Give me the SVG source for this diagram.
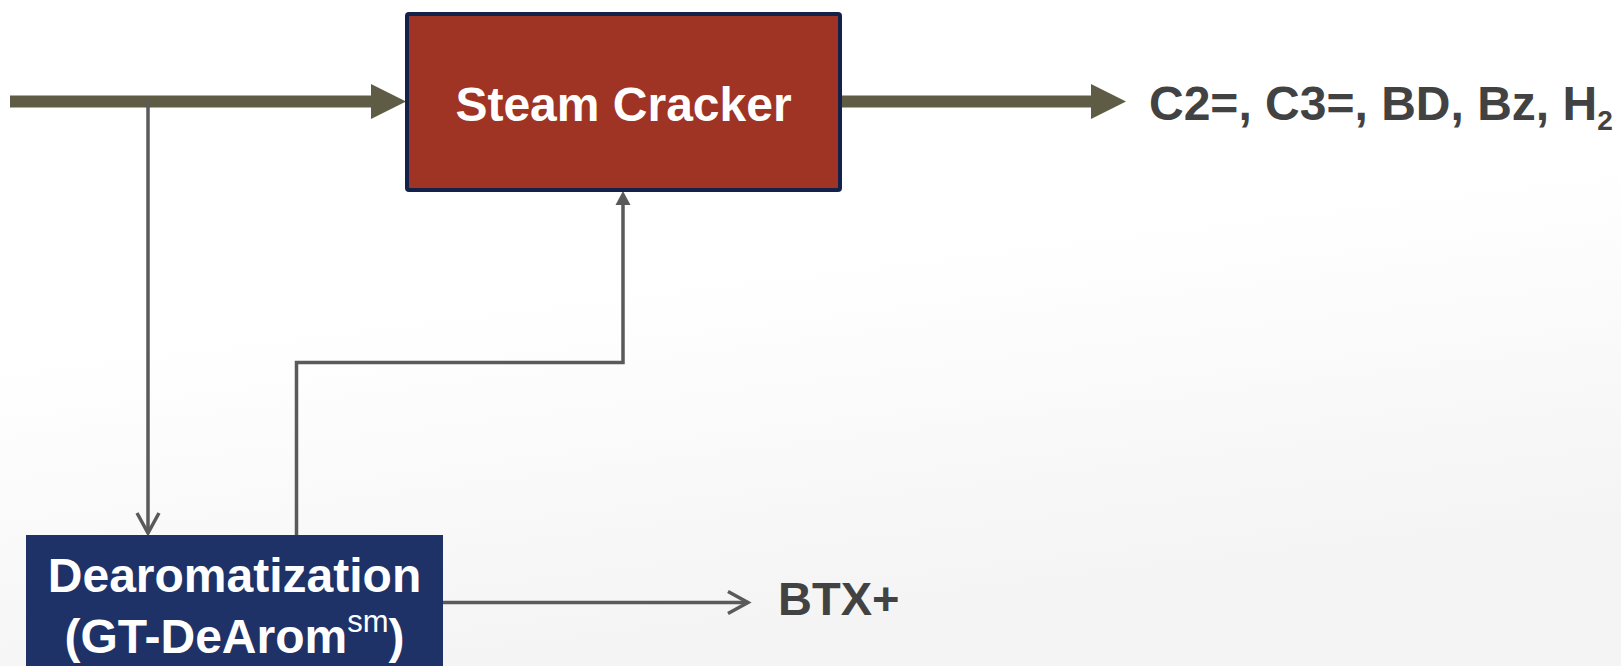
<svg xmlns="http://www.w3.org/2000/svg" width="1621" height="666" viewBox="0 0 1621 666">
  <style>
    .lbl { font-family: "Liberation Sans", Arial, sans-serif; font-weight: bold; }
    .white { fill: #ffffff; }
    .dark { fill: #424242; }
    .thick { stroke: #5e5c45; stroke-width: 12; fill: none; }
    .thin { stroke: #5a5a5a; stroke-width: 3.5; fill: none; }
  </style>
  <defs>
    <linearGradient id="bg" x1="0" y1="0" x2="0.3" y2="1">
      <stop offset="0" stop-color="#ffffff"/>
      <stop offset="0.5" stop-color="#ffffff"/>
      <stop offset="1" stop-color="#f4f4f4"/>
    </linearGradient>
    <marker id="bigHead" markerUnits="userSpaceOnUse" markerWidth="36" markerHeight="36" refX="0" refY="17.5" orient="auto" overflow="visible">
      <path d="M0,0 L35,17.5 L0,35 Z" fill="#5e5c45"/>
    </marker>
    <marker id="smallHead" markerUnits="userSpaceOnUse" markerWidth="15" markerHeight="16" refX="0" refY="7.5" orient="auto" overflow="visible">
      <path d="M0,0 L14,7.5 L0,15 Z" fill="#5a5a5a"/>
    </marker>
    <marker id="openHead" markerUnits="userSpaceOnUse" markerWidth="22" markerHeight="24" refX="20" refY="11" orient="auto" overflow="visible">
      <path d="M0,0 L20,11 L0,22" fill="none" stroke="#5a5a5a" stroke-width="3.5" stroke-linejoin="miter"/>
    </marker>
  </defs>

  <rect x="0" y="0" width="1621" height="666" fill="url(#bg)"/>

  <g id="connectors">
    <line class="thick" x1="10" y1="101.5" x2="371" y2="101.5" marker-end="url(#bigHead)"/>
    <line class="thick" x1="842" y1="101.5" x2="1091" y2="101.5" marker-end="url(#bigHead)"/>
    <line class="thin" x1="148" y1="101.5" x2="148" y2="533" marker-end="url(#openHead)"/>
    <polyline class="thin" points="296.5,535 296.5,362.5 623,362.5 623,205" marker-end="url(#smallHead)"/>
    <line class="thin" x1="443" y1="602.5" x2="748" y2="602.5" marker-end="url(#openHead)"/>
  </g>

  <g id="steam-cracker">
    <rect x="407" y="14" width="433" height="176" rx="2" fill="#9f3324" stroke="#13214b" stroke-width="4"/>
    <text class="lbl white" x="623.5" y="120.5" font-size="48" text-anchor="middle">Steam Cracker</text>
  </g>

  <g id="dearomatization">
    <rect x="26" y="535" width="417" height="131" fill="#1e3268"/>
    <text class="lbl white" x="234.5" y="591.5" font-size="48" text-anchor="middle">Dearomatization</text>
    <text class="lbl white" x="234.5" y="652.5" font-size="48" text-anchor="middle">(GT-DeArom<tspan font-size="31" font-weight="normal" dy="-21">sm</tspan><tspan dy="21">)</tspan></text>
  </g>

  <g id="products">
    <text class="lbl dark" x="1149" y="120" font-size="48">C2=, C3=, BD, Bz, H<tspan font-size="28" dy="10">2</tspan></text>
  </g>

  <g id="btx">
    <text class="lbl dark" x="778" y="615" font-size="47">BTX+</text>
  </g>
</svg>
